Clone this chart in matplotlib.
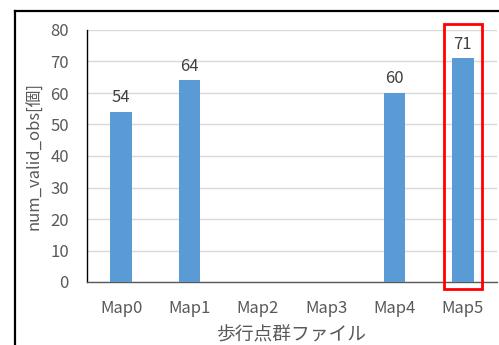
import numpy as np
import matplotlib.pyplot as plt
from matplotlib.lines import Line2D
from matplotlib.patches import Rectangle

plt.rcParams['font.family'] = ['Noto Sans CJK JP', 'DejaVu Sans']

# Valid observation count per walking point cloud file
maps = ['Map0', 'Map1', 'Map2', 'Map3', 'Map4', 'Map5']
num_valid_obs = [54, 64, np.nan, np.nan, 60, 71]
highlight = 'Map5'

W, H = 499, 345
fig = plt.figure(figsize=(W / 100, H / 100), dpi=100)
ax = fig.add_axes([87 / W, 1 - 282 / H, (497 - 87) / W, (282 - 30) / H])

x = np.arange(len(maps))
ax.bar(x, num_valid_obs, width=0.32, color='#5B9BD5', zorder=3)
for xi, v in zip(x, num_valid_obs):
    if not np.isnan(v):
        ax.text(xi, v + 1.8, f'{v:g}', ha='center', va='bottom',
                fontsize=12, color='#404040')

ax.set_xlim(-0.5, 5.5)
ax.set_ylim(0, 80)
ax.set_yticks(range(0, 81, 10))
ax.set_xticks(x)
ax.set_xticklabels(maps)
ax.grid(axis='y', color='#D9D9D9', linewidth=1, zorder=0)
ax.tick_params(length=0, labelsize=12, labelcolor='#595959')
ax.tick_params(axis='x', pad=13)
ax.tick_params(axis='y', pad=13)
for s in ['top', 'right']:
    ax.spines[s].set_visible(False)
ax.spines['left'].set_color('black')
ax.spines['left'].set_linewidth(1)
ax.spines['bottom'].set_color('#595959')
ax.spines['bottom'].set_linewidth(1)

ax.set_ylabel('num_valid_obs[個]', fontsize=12, color='#595959', labelpad=5)
ax.set_xlabel('歩行点群ファイル', fontsize=13.5, color='#595959', labelpad=5)

# red box around the last map
hi = maps.index(highlight)
ax.add_patch(Rectangle((hi - 0.28, -2.3), 0.56, 84.2, fill=False,
                       edgecolor='#FF0000', linewidth=2, clip_on=False, zorder=5))

# outer frame lines
fig.add_artist(Line2D([15 / W, 15 / W], [0, 1 - 11 / H], color='black', linewidth=1.6))
fig.add_artist(Line2D([15 / W, 1], [1 - 11 / H, 1 - 11 / H], color='black', linewidth=1.6))

fig.savefig('out.png', dpi=100)
